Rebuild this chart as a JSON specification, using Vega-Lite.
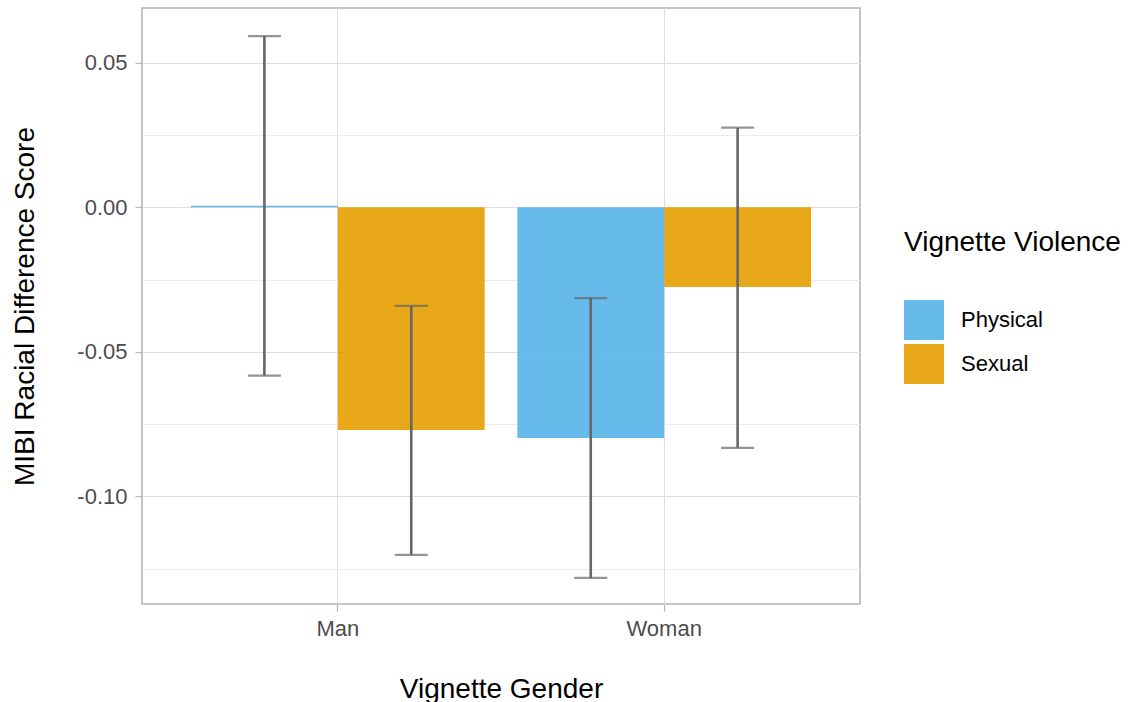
{
  "$schema": "https://vega.github.io/schema/vega-lite/v6.json",
  "width": 718,
  "height": 596,
  "autosize": {"type": "none"},
  "padding": {"left": 142, "top": 8, "right": 268, "bottom": 98},
  "background": "white",
  "config": {
    "font": "Liberation Sans",
    "view": {"stroke": "#b3b3b3", "strokeWidth": 1.5},
    "axis": {
      "labelFont": "Liberation Sans",
      "titleFont": "Liberation Sans",
      "labelFontSize": 22,
      "labelColor": "#4d4d4d",
      "titleFontSize": 28,
      "titleFontWeight": "normal",
      "titleColor": "#000000",
      "tickColor": "#b3b3b3",
      "tickSize": 7,
      "tickWidth": 1.2,
      "domain": false
    }
  },
  "data": {
    "values": [
      {"Gender": "Man", "Violence": "Physical", "mean": 0.0005, "lo": -0.0582, "hi": 0.0592},
      {"Gender": "Man", "Violence": "Sexual", "mean": -0.0770, "lo": -0.1202, "hi": -0.0341},
      {"Gender": "Woman", "Violence": "Physical", "mean": -0.0798, "lo": -0.1282, "hi": -0.0314},
      {"Gender": "Woman", "Violence": "Sexual", "mean": -0.0276, "lo": -0.0832, "hi": 0.0275}
    ]
  },
  "encoding": {
    "x": {
      "field": "Gender",
      "type": "nominal",
      "scale": {"paddingInner": 0.1, "paddingOuter": 0.15},
      "axis": {
        "title": "Vignette Gender",
        "labelAngle": 0,
        "labelPadding": 7,
        "titlePadding": 36,
        "grid": true,
        "gridColor": "#dedede",
        "gridWidth": 1
      }
    },
    "xOffset": {
      "field": "Violence",
      "type": "nominal",
      "scale": {"paddingInner": 0, "paddingOuter": 0}
    }
  },
  "layer": [
    {
      "mark": {"type": "bar", "opacity": 0.9},
      "encoding": {
        "y": {
          "field": "mean",
          "type": "quantitative",
          "scale": {"domain": [-0.1372, 0.0689], "nice": false, "zero": false},
          "axis": {
            "title": "MIBI Racial Difference Score",
            "values": [-0.125, -0.1, -0.075, -0.05, -0.025, 0, 0.025, 0.05],
            "labelExpr": "abs(datum.value*20 - round(datum.value*20)) < 0.001 ? replace(format(datum.value, '.2f'), '\u2212', '-') : ''",
            "labelPadding": 8,
            "titlePadding": 37,
            "grid": true,
            "gridColor": {"condition": {"test": "abs(datum.value*20 - round(datum.value*20)) < 0.001", "value": "#dedede"}, "value": "#ececec"},
            "gridWidth": 1,
            "tickOpacity": {"condition": {"test": "abs(datum.value*20 - round(datum.value*20)) < 0.001", "value": 1}, "value": 0}
          }
        },
        "color": {
          "field": "Violence",
          "type": "nominal",
          "scale": {"domain": ["Physical", "Sexual"], "range": ["#56B4E9", "#E69F00"]},
          "legend": {
            "title": "Vignette Violence",
            "orient": "none",
            "legendX": 762,
            "legendY": 221,
            "padding": 0,
            "titleFont": "Liberation Sans",
            "titleFontSize": 28,
            "titleFontWeight": "normal",
            "titleColor": "#000000",
            "titleLimit": 400,
            "titlePadding": 43,
            "labelFont": "Liberation Sans",
            "labelFontSize": 22,
            "labelColor": "#000000",
            "labelOffset": 17,
            "labelLimit": 300,
            "symbolType": "square",
            "symbolSize": 1600,
            "symbolStrokeWidth": 0,
            "symbolOpacity": 0.9,
            "rowPadding": 4
          }
        }
      }
    },
    {
      "mark": {"type": "rule", "color": "#666666", "strokeWidth": 2.6},
      "encoding": {
        "y": {"field": "lo", "type": "quantitative"},
        "y2": {"field": "hi"}
      }
    },
    {
      "mark": {"type": "tick", "color": "#666666", "thickness": 2.2, "size": 33},
      "encoding": {
        "y": {"field": "lo", "type": "quantitative"}
      }
    },
    {
      "mark": {"type": "tick", "color": "#666666", "thickness": 2.2, "size": 33},
      "encoding": {
        "y": {"field": "hi", "type": "quantitative"}
      }
    }
  ]
}
